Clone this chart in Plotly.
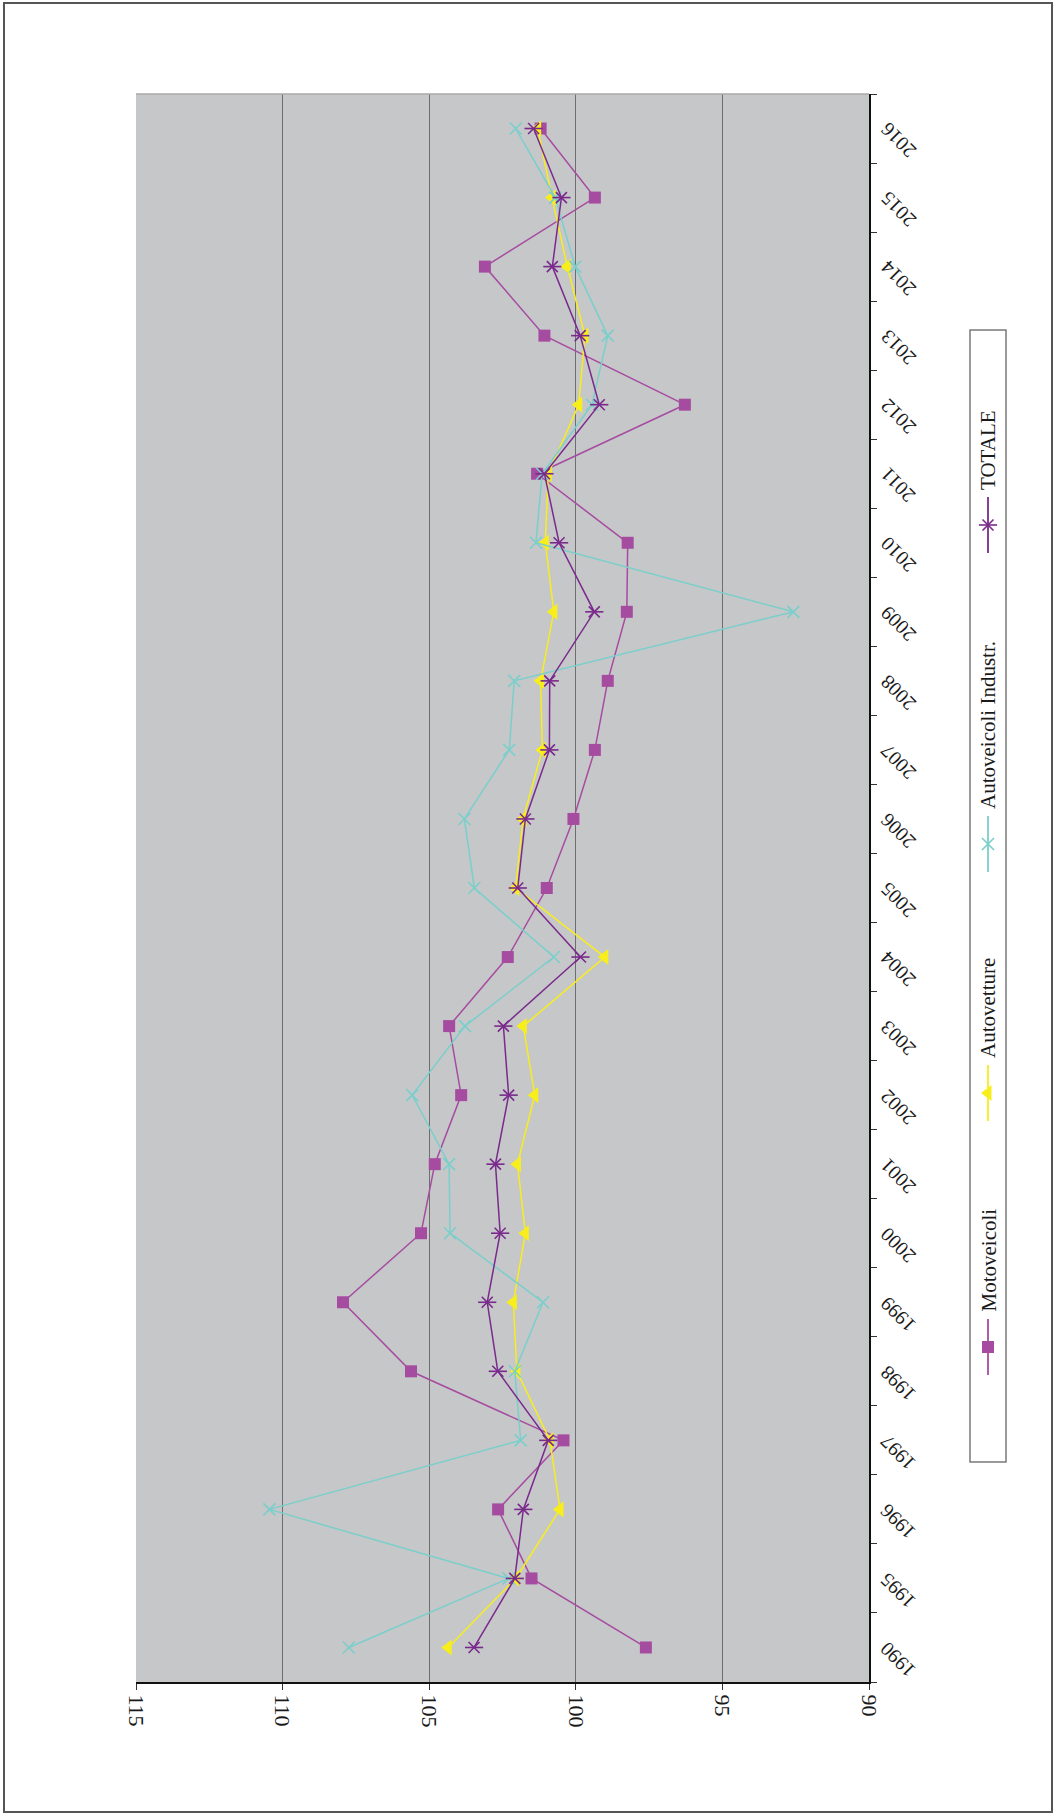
import plotly.graph_objects as go

# Indici annuali per categoria di veicolo
years = ["1990", "1995", "1996", "1997", "1998", "1999", "2000", "2001", "2002",
         "2003", "2004", "2005", "2006", "2007", "2008", "2009", "2010", "2011",
         "2012", "2013", "2014", "2015", "2016"]

motoveicoli = [97.61, 101.51, 102.65, 100.42, 105.62, 107.94, 105.28, 104.81, 103.91,
               104.32, 102.32, 100.99, 100.08, 99.35, 98.91, 98.26, 98.23, 101.32,
               96.28, 101.07, 103.10, 99.35, 101.20]
autovetture = [104.35, 102.05, 100.54, 100.88, 102.01, 102.13, 101.72, 101.99, 101.40,
               101.79, 99.01, 102.05, 101.80, 101.14, 101.20, 100.75, 101.04, 100.94,
               99.90, 99.69, 100.29, 100.81, 101.30]
autoveicoli_industr = [107.74, 102.29, 110.45, 101.88, 102.08, 101.12, 104.29, 104.32, 105.58,
                       103.78, 100.75, 103.46, 103.80, 102.27, 102.10, 92.58, 101.36, 101.15,
                       99.45, 98.91, 100.02, 100.70, 102.05]
totale = [103.47, 102.08, 101.79, 100.94, 102.66, 103.02, 102.58, 102.74, 102.29,
          102.47, 99.84, 101.98, 101.72, 100.90, 100.89, 99.37, 100.57, 101.07,
          99.20, 99.85, 100.80, 100.49, 101.44]

value_ticks = [115, 110, 105, 100, 95, 90]
series_names = ["Motoveicoli", "Autovetture", "Autoveicoli Industr.", "TOTALE"]

W, H = 1056, 1816
FONT = "Liberation Serif, Times New Roman, serif"

C_MOTO = "#A64CA0"
C_AUTO = "#F8EE1C"
C_IND = "#7ACFCB"
C_TOT = "#7A2A8C"


def fx(p):
    return p / W


def fy(p):
    return (H - p) / H


# plot area in page pixels
PX0, PX1 = 136, 869
PY0, PY1 = 94, 1682

MK_MOTO = dict(symbol="square", size=12, color=C_MOTO)
MK_AUTO = dict(symbol="triangle-left", size=14, color=C_AUTO)
MK_IND = dict(symbol="x-thin-open", size=12, color=C_IND, line=dict(color=C_IND, width=1.6))
MK_TOT = dict(symbol="x-thin-open", size=11, color=C_TOT, line=dict(color=C_TOT, width=1.6))
MK_TOT_BAR = dict(symbol="line-ew-open", size=13, color=C_TOT, line=dict(color=C_TOT, width=1.6))

fig = go.Figure()

fig.add_trace(go.Scatter(x=motoveicoli, y=years, mode="lines+markers", name=series_names[0],
                         line=dict(color=C_MOTO, width=1.5), marker=MK_MOTO))
fig.add_trace(go.Scatter(x=autovetture, y=years, mode="lines+markers", name=series_names[1],
                         line=dict(color=C_AUTO, width=1.5), marker=MK_AUTO))
fig.add_trace(go.Scatter(x=autoveicoli_industr, y=years, mode="lines+markers", name=series_names[2],
                         line=dict(color=C_IND, width=1.5), marker=MK_IND))
fig.add_trace(go.Scatter(x=totale, y=years, mode="lines+markers", name=series_names[3],
                         line=dict(color=C_TOT, width=1.5), marker=MK_TOT))
# horizontal stroke of the star marker
fig.add_trace(go.Scatter(x=totale, y=years, mode="markers", showlegend=False, marker=MK_TOT_BAR))

# ---- custom vertical legend (on its own small axes) ----
LEG_X0, LEG_X1, LEG_Y0, LEG_Y1 = 970, 1006, 330, 1462
leg_cx = 988
leg_entries = [
    (series_names[0], C_MOTO, 1347, [MK_MOTO]),
    (series_names[1], C_AUTO, 1093, [MK_AUTO]),
    (series_names[2], C_IND, 844, [MK_IND]),
    (series_names[3], C_TOT, 525, [MK_TOT, MK_TOT_BAR]),
]
for name, col, cy, mks in leg_entries:
    fig.add_trace(go.Scatter(
        x=[leg_cx, leg_cx], y=[cy - 28, cy + 28], mode="lines", showlegend=False,
        line=dict(color=col, width=1.8), xaxis="x2", yaxis="y2", hoverinfo="skip",
    ))
    for mk in mks:
        fig.add_trace(go.Scatter(
            x=[leg_cx], y=[cy], mode="markers", showlegend=False, marker=mk,
            xaxis="x2", yaxis="y2", hoverinfo="skip",
        ))

annotations = []
for name, col, cy, mks in leg_entries:
    annotations.append(dict(
        text=name, textangle=-90, xref="paper", yref="paper",
        x=fx(leg_cx), y=fy(cy - 33), xanchor="center", yanchor="bottom",
        showarrow=False, font=dict(family=FONT, size=21, color="#1a1a1a"),
    ))

# year labels beside the category axis, tilted (positioned by category index)
for i, yr in enumerate(years):
    annotations.append(dict(
        text=yr, textangle=-135, xref="paper", yref="y",
        x=fx(898), y=i, yshift=-12, xanchor="center", yanchor="middle",
        showarrow=False, font=dict(family=FONT, size=20, color="#1a1a1a"),
    ))

shapes = [
    # page frame
    dict(type="rect", xref="paper", yref="paper", x0=fx(4), x1=fx(1052), y0=fy(1812), y1=fy(3),
         line=dict(color="#555555", width=2), fillcolor="rgba(0,0,0,0)", layer="below"),
    # top edge of the plot area
    dict(type="line", xref="paper", yref="paper", x0=fx(PX0), x1=fx(PX1), y0=fy(PY0), y1=fy(PY0),
         line=dict(color="#A9A9A9", width=1.5)),
    # legend frame
    dict(type="rect", xref="paper", yref="paper", x0=fx(LEG_X0), x1=fx(LEG_X1), y0=fy(LEG_Y1), y1=fy(LEG_Y0),
         line=dict(color="#7a7a7a", width=1.5), fillcolor="white", layer="below"),
]

fig.update_layout(
    width=W, height=H,
    margin=dict(l=0, r=0, t=0, b=0, pad=0),
    autosize=False,
    paper_bgcolor="white",
    plot_bgcolor="#C6C7C9",
    showlegend=False,
    font=dict(family=FONT, color="#1a1a1a"),
    xaxis=dict(
        domain=[fx(PX0), fx(PX1)],
        range=[115, 90], tickvals=value_ticks, ticktext=[str(v) for v in value_ticks],
        showgrid=True, gridcolor="#6E6E6E", gridwidth=1.2,
        zeroline=False, showline=True, linecolor="#111111", linewidth=2,
        ticks="outside", ticklen=6, tickcolor="#333333", tickwidth=1,
        tickangle=90, tickfont=dict(family=FONT, size=22, color="#1a1a1a"),
        anchor="y", automargin=False,
    ),
    yaxis=dict(
        domain=[fy(PY1), fy(PY0)],
        type="category", categoryorder="array", categoryarray=years,
        range=[-0.5, len(years) - 0.5],
        side="right", showgrid=False, zeroline=False,
        showline=True, linecolor="#111111", linewidth=1.5,
        ticks="outside", ticklen=6, tickcolor="#333333", tickwidth=1,
        tickson="boundaries", showticklabels=False,
        anchor="x", automargin=False,
    ),
    xaxis2=dict(domain=[fx(LEG_X0), fx(LEG_X1)], range=[LEG_X0, LEG_X1], visible=False,
                anchor="y2", fixedrange=True),
    yaxis2=dict(domain=[fy(LEG_Y1), fy(LEG_Y0)], range=[LEG_Y1, LEG_Y0], visible=False,
                anchor="x2", fixedrange=True),
    shapes=shapes,
    annotations=annotations,
)

fig.write_html(
    "out.html",
    config={"responsive": False},
    post_script="document.body.style.margin='0';document.body.style.overflow='hidden';",
)
